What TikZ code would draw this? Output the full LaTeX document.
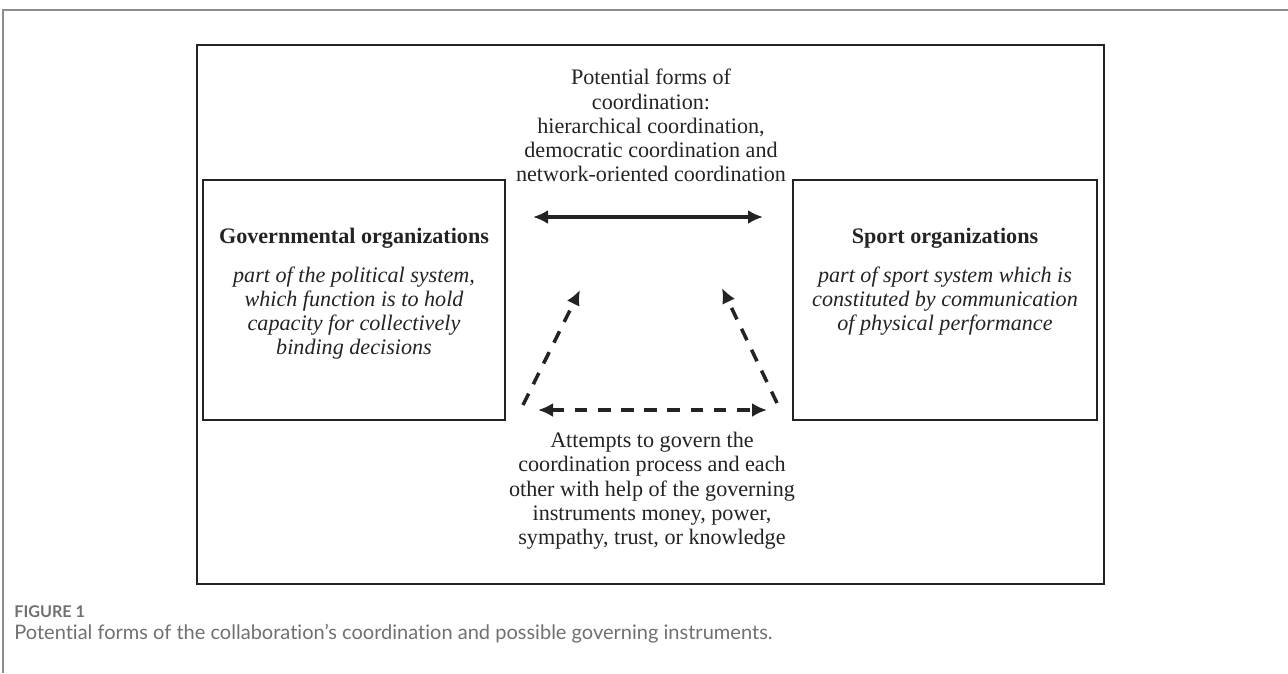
\documentclass[tikz,border=0pt]{standalone}
\usepackage{fontspec}
\setmainfont{Liberation Serif}
\newfontfamily\capfont[Ligatures=NoCommon]{Lato}
\usetikzlibrary{arrows.meta}
\usetikzlibrary{positioning}
\definecolor{myblack}{HTML}{232323}
\definecolor{mygray}{HTML}{707070}
\definecolor{rulegray}{HTML}{8C8C8C}
\tikzset{every text node part/.style={align=center, font={\fontsize{12.6}{13.8}\selectfont}}}
\tikzstyle{orgbox} = [draw=myblack, line width=1.1pt, minimum height=4.8cm, inner sep=0]
\tikzstyle{txt} = [inner sep=0, anchor=north, text=myblack]
\tikzstyle{title} = [inner sep=0, anchor=base, text=myblack]
\tikzstyle{ln} = [draw=myblack, line width=2pt, {Latex[length=0.3cm,width=0.28cm]}-{Latex[length=0.3cm,width=0.28cm]}]
\tikzstyle{dln} = [ln, dash pattern=on 7.2pt off 6pt]

\begin{document}
\begin{tikzpicture}[x=0.02cm, y=-0.02cm]
  \useasboundingbox (0,0) rectangle (1288,673);

  % Define page rule and outer frame
  \draw[rulegray, line width=0.8pt] (1288,10) -- (3,10) -- (3,673);
  \node[draw=myblack, line width=1.1pt, minimum width=18.14cm, minimum height=10.78cm, inner sep=0] (frame) at (650.5,314.5) {};

  % Define organization blocks
  \node[orgbox, minimum width=6.04cm] (gov) at (354,300) {};
  \node[orgbox, minimum width=6.08cm] (sport) at (945,300) {};

  % Define block texts
  \node[title] (govtitle) at (354,243) {\textbf{Governmental organizations}};
  \node[txt, below=0.36cm of govtitle] (govtext) {\itshape part of the political system,\\ \itshape which function is to hold\\ \itshape capacity for collectively\\ \itshape binding decisions};
  \node[title] (sporttitle) at (945,243) {\textbf{Sport organizations}};
  \node[txt, below=0.36cm of sporttitle] (sporttext) {\itshape part of sport system which is\\ \itshape constituted by communication\\ \itshape of physical performance};

  % Define coordination labels
  \node[txt] (forms) at (651,69) {Potential forms of\\ coordination:\\ hierarchical coordination,\\ democratic coordination and\\ network-oriented coordination};
  \node[txt] (attempts) at (652,432) {Attempts to govern the\\ coordination process and each\\ other with help of the governing\\ instruments money, power,\\ sympathy, trust, or knowledge};

  % Define arrow ends
  \coordinate (cl) at (533,217);
  \coordinate (cr) at (763,217);
  \coordinate (bl) at (538,410);
  \coordinate (br) at (767,410);
  \coordinate (gl) at (523,405);
  \coordinate (gt) at (580,290);
  \coordinate (sr) at (777,403);
  \coordinate (st) at (722,288);

  % Draw lines
  \draw[ln] (cl) -- (cr);
  \draw[dln] (bl) -- (br);
  \draw[dln, -{Latex[length=0.3cm,width=0.28cm]}] (gl) -- (gt);
  \draw[dln, -{Latex[length=0.3cm,width=0.28cm]}] (sr) -- (st);

  % Define caption
  \node[inner sep=0, anchor=base west, text=mygray] (figlabel) at (14,617) {\capfont\bfseries\fontsize{9.2}{11}\selectfont FIGURE 1};
  \node[inner sep=0, anchor=base west, text=mygray] (caption) at (14,639) {\capfont\fontsize{11.4}{13}\selectfont Potential forms of the collaboration’s coordination and possible governing instruments.};

\end{tikzpicture}
\end{document}
